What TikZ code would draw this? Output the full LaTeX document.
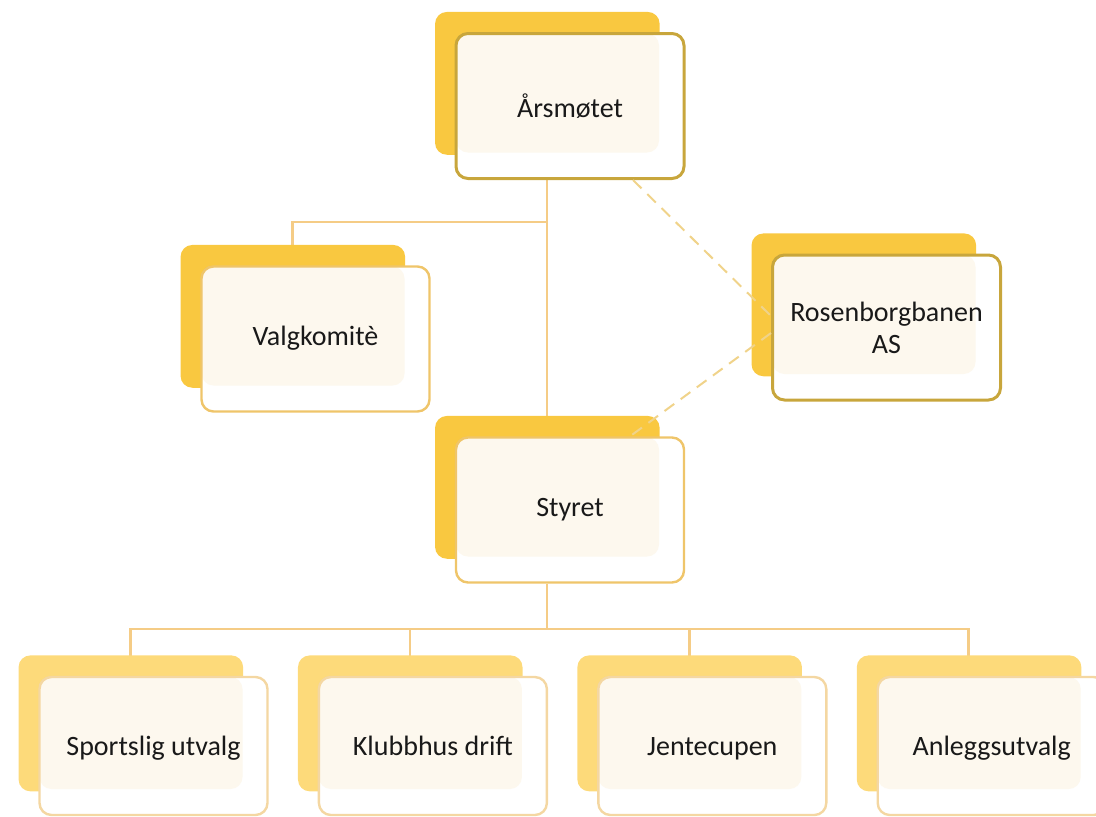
\documentclass[tikz,border=0pt]{standalone}
\usepackage{fontspec}
\setmainfont{Carlito}
\usetikzlibrary{shadows,positioning}

\definecolor{goldback}{HTML}{F9C840}
\definecolor{paleback}{HTML}{FDDA7A}
\definecolor{darkgold}{HTML}{C8A63C}
\definecolor{warmedge}{HTML}{EFC56A}
\definecolor{paleedge}{HTML}{F4D7A2}
\definecolor{cream}{HTML}{FDF8EE}
\definecolor{linkcol}{HTML}{F5CC86}
\definecolor{dashcol}{HTML}{F0D38A}

\pgfdeclarelayer{bg}
\pgfsetlayers{bg,main}

\begin{document}
\begin{tikzpicture}[x=0.5pt,y=-0.5pt,node distance=24.5pt,
  box/.style={rounded corners=6pt,line width=1.2pt,minimum width=114pt,minimum height=72.5pt,
    align=center,font=\fontsize{14}{16}\selectfont,text=black!90,fill=white,
    path picture={\fill[cream] (path picture bounding box.north west) rectangle
      ([xshift=-12.5pt,yshift=13pt]path picture bounding box.south east);},
    general shadow={shadow xshift=-11.5pt,shadow yshift=11.5pt,shadow scale=0.985,fill=#1}},
  box/.default=goldback,
  topbox/.style={box,draw=darkgold,line width=1.5pt},
  midbox/.style={box,draw=warmedge,text height=1.8ex,text depth=.4ex},
  lowbox/.style={box=paleback,draw=paleedge,minimum height=69pt,text height=2.1ex,text depth=.1ex},
  link/.style={draw=linkcol,line width=1.4pt},
  dashlink/.style={draw=dashcol,line width=1pt,dash pattern=on 6pt off 4pt}]

\clip (0,0) rectangle (1096,816);

\node[topbox] (aars) at (570,106) {Årsmøtet};
\node[midbox] (valg) at (315.5,339) {Valgkomitè};
\node[topbox] (rosen) at (886.5,327.5) {Rosenborgbanen\\AS};
\node[midbox] (styr) at (570,510) {Styret};

\node[lowbox] (sport) at (153.5,746) {Sportslig utvalg};
\node[lowbox] (klubb) [right=of sport] {Klubbhus drift};
\node[lowbox] (jente) [right=of klubb] {Jentecupen};
\node[lowbox] (anlegg) [right=of jente] {Anleggsutvalg};

% lines behind the boxes
\begin{pgfonlayer}{bg}
\coordinate (tbus) at (547,222);
\coordinate (bbus) at (547,629);
\draw[link] ([xshift=-11.5pt]aars.south) -- ([xshift=-11.5pt]styr.north);
\draw[link] (tbus) -| ([xshift=-11.5pt]valg.north);
\draw[link] ([xshift=-11.5pt]styr.south) -- (bbus);
\foreach \n in {sport,klubb,jente,anlegg}
  \draw[link] (bbus) -| ([xshift=-11.5pt]\n.north);
\end{pgfonlayer}

\draw[dashlink] ([xshift=31.5pt]aars.south) -- ([yshift=5.75pt]rosen.west);
\draw[dashlink] ([yshift=-2.75pt]rosen.west) -- ([xshift=30pt]styr.north);

\end{tikzpicture}
\end{document}
